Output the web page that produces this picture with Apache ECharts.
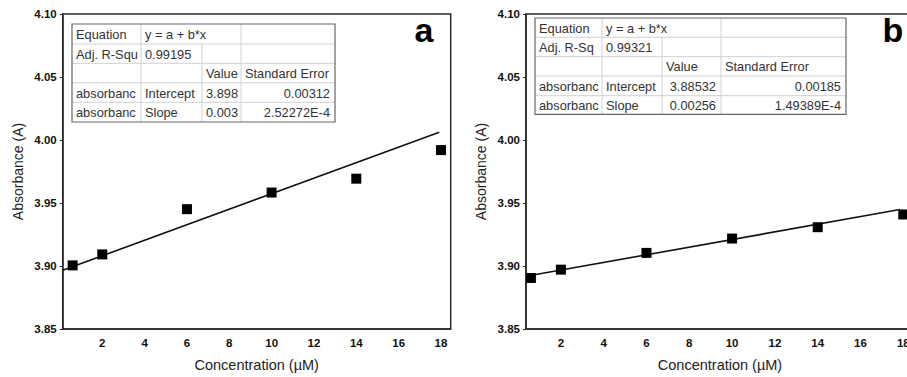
<!DOCTYPE html>
<html>
<head>
<meta charset="utf-8">
<script src="https://cdn.jsdelivr.net/npm/echarts@6/dist/echarts.min.js"></script>
<style>
html,body{margin:0;padding:0;background:#fff;overflow:hidden;}
#chart{width:930px;height:377px;}
</style>
</head>
<body>
<div id="chart"></div>
<script>
// ---- data ----
const xTickValues = [2, 4, 6, 8, 10, 12, 14, 16, 18];
const concA = [0.6, 2, 6, 10, 14, 18];
const absA = [3.9005, 3.9092, 3.9451, 3.9583, 3.9693, 3.992];
const fitA = [[0.13, 3.8966], [17.92, 4.0062]];
const concB = [0.6, 2, 6, 10, 14, 18];
const absB = [3.8905, 3.8971, 3.9104, 3.9218, 3.9308, 3.9409];
const fitB = [[0.63, 3.8926], [17.84, 3.9448]];
const tableARows = [
  ["Equation", "y = a + b*x", "", ""],
  ["Adj. R-Squ", "0.99195", "", ""],
  ["", "", "Value", "Standard Error"],
  ["absorbanc", "Intercept", "3.898", "0.00312"],
  ["absorbanc", "Slope", "0.003", "2.52272E-4"]
];
const tableBRows = [
  ["Equation", "y = a + b*x", "", ""],
  ["Adj. R-Sq", "0.99321", "", ""],
  ["", "", "Value", "Standard Error"],
  ["absorbanc", "Intercept", "3.88532", "0.00185"],
  ["absorbanc", "Slope", "0.00256", "1.49389E-4"]
];
const panelLabels = ["a", "b"];
const xName = "Concentration (µM)";
const yName = "Absorbance (A)";

// ---- layout ----
const FONT = "'Liberation Sans', Arial, sans-serif";
const ink = '#222';
const frame = '#2a2a2a';

function buildTable(rows, cols, ys, valueRight) {
  const els = [];
  const W = cols[cols.length - 1] - cols[0];
  const H = ys[ys.length - 1] - ys[0];
  els.push({type: 'rect', shape: {x: cols[0], y: ys[0], width: W, height: H},
    style: {fill: '#fff', stroke: null}, z: 100});
  for (let r = 1; r < ys.length - 1; r++) {
    els.push({type: 'line', shape: {x1: cols[0], y1: ys[r], x2: cols[cols.length - 1], y2: ys[r]},
      style: {stroke: '#d0d0d0', lineWidth: 1}, z: 101});
  }
  for (let c = 1; c < cols.length - 1; c++) {
    const yStart = (c === 2) ? ys[1] : ys[0];
    els.push({type: 'line', shape: {x1: cols[c], y1: yStart, x2: cols[c], y2: ys[ys.length - 1]},
      style: {stroke: '#d0d0d0', lineWidth: 1}, z: 101});
  }
  els.push({type: 'rect', shape: {x: cols[0], y: ys[0], width: W, height: H},
    style: {fill: null, stroke: '#666', lineWidth: 1.2}, z: 102});
  rows.forEach((row, r) => {
    row.forEach((txt, c) => {
      if (!txt) return;
      let align = 'left';
      if (r >= 3 && c === 3) align = 'right';
      if (r >= 3 && c === 2 && valueRight) align = 'right';
      const x = align === 'left' ? cols[c] + 4 : cols[c + 1] - 5;
      els.push({type: 'text', x: x, y: (ys[r] + ys[r + 1]) / 2 + 0.5, z: 103,
        style: {text: txt, font: '12.8px ' + FONT, fill: '#333',
          textAlign: align, textVerticalAlign: 'middle'}});
    });
  });
  return els;
}

const graphics = []
  .concat(buildTable(tableARows, [72, 141, 202, 241, 335], [24, 44, 63.3, 82.7, 102.3, 122], false))
  .concat(buildTable(tableBRows, [535, 602, 662, 721, 846], [18, 37.3, 56.7, 76, 95.7, 114.3], true));
graphics.push({type: 'text', x: 424, y: 47, z: 110,
  style: {text: panelLabels[0], font: 'bold 34px ' + FONT, fill: '#000', textAlign: 'center', textVerticalAlign: 'bottom'}});
graphics.push({type: 'text', x: 893, y: 47, z: 110,
  style: {text: panelLabels[1], font: 'bold 34px ' + FONT, fill: '#000', textAlign: 'center', textVerticalAlign: 'bottom'}});

function xAxisCfg(idx, min, max) {
  return {
    type: 'value', gridIndex: idx, min: min, max: max,
    name: xName, nameLocation: 'middle', nameGap: 28,
    nameTextStyle: {fontFamily: FONT, fontSize: 14.5, color: ink},
    axisLine: {show: true, lineStyle: {color: frame, width: 1.5}},
    axisTick: {show: false},
    splitLine: {show: false},
    axisLabel: {customValues: xTickValues, fontFamily: FONT, fontSize: 11.5, fontWeight: 'bold', color: '#111', margin: 8}
  };
}
function yAxisCfg(idx) {
  return {
    type: 'value', gridIndex: idx, min: 3.85, max: 4.10, interval: 0.05,
    name: yName, nameLocation: 'middle', nameGap: 38,
    nameTextStyle: {fontFamily: FONT, fontSize: 14, color: ink},
    axisLine: {show: true, lineStyle: {color: frame, width: 1.5}},
    axisTick: {show: true, length: 3, lineStyle: {color: frame}},
    splitLine: {show: false},
    axisLabel: {fontFamily: FONT, fontSize: 11.5, fontWeight: 'bold', color: '#111', margin: 6,
      formatter: v => v.toFixed(2)}
  };
}

const chart = echarts.init(document.getElementById('chart'), null, {renderer: 'svg'});
chart.setOption({
  animation: false,
  backgroundColor: '#fff',
  grid: [
    {left: 62.7, top: 14, width: 388, height: 318, show: true, borderColor: frame, borderWidth: 1.5, backgroundColor: 'transparent'},
    {left: 526, top: 14, width: 388, height: 320, show: true, borderColor: frame, borderWidth: 1.5, backgroundColor: 'transparent'}
  ],
  xAxis: [xAxisCfg(0, 0.13, 18.46), xAxisCfg(1, 0.37, 18.5)],
  yAxis: [yAxisCfg(0), yAxisCfg(1)],
  series: [
    {type: 'line', xAxisIndex: 0, yAxisIndex: 0, data: fitA, symbol: 'none',
      lineStyle: {color: '#111', width: 1.6}, z: 2},
    {type: 'scatter', xAxisIndex: 0, yAxisIndex: 0, data: concA.map((x, i) => [x, absA[i]]),
      symbol: 'rect', symbolSize: 10, itemStyle: {color: '#000', opacity: 1}, z: 3},
    {type: 'line', xAxisIndex: 1, yAxisIndex: 1, data: fitB, symbol: 'none',
      lineStyle: {color: '#111', width: 1.6}, z: 2},
    {type: 'scatter', xAxisIndex: 1, yAxisIndex: 1, data: concB.map((x, i) => [x, absB[i]]),
      symbol: 'rect', symbolSize: 10, itemStyle: {color: '#000', opacity: 1}, z: 3}
  ],
  graphic: graphics
});
</script>
</body>
</html>
